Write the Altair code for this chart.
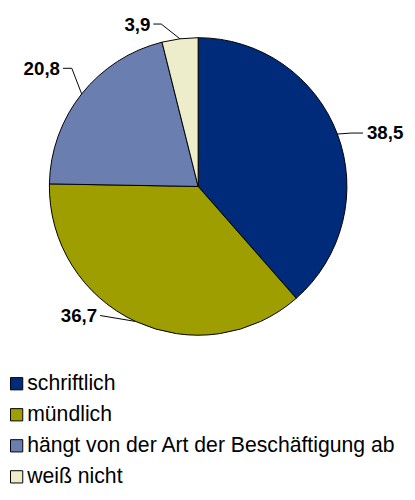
import math
import altair as alt
import pandas as pd

# ---- data ----
categories = ["schriftlich", "mündlich", "hängt von der Art der Beschäftigung ab", "weiß nicht"]
values = [38.5, 36.7, 20.8, 3.9]
value_labels = ["38,5", "36,7", "20,8", "3,9"]
colors = ["#002A7A", "#9E9E00", "#6A7EB0", "#EDEDCB"]

# ---- layout (chart pixel space) ----
W, H = 405, 484
CX, CY, R = 193, 177.5, 151
FONT = "Liberation Sans"
# leader-line offsets relative to the slice edge point: (elbow, end, label anchor, align)
leader = {
    "schriftlich": ((14, -1), (26, -1), (30, -1), "left"),
    "mündlich": ((-36, -6), (-36, -6), (-39, -5), "right"),
    "hängt von der Art der Beschäftigung ab": ((-10, -26), (-19, -26), (-22, -25), "right"),
    "weiß nicht": ((-19, -15), (-27, -15), (-30, -14), "right"),
}

total = sum(values)
pie_df = pd.DataFrame({"cat": categories, "value": values, "idx": range(len(values))})

line_rows, lab_rows = [], []
cum = 0.0
for cat, v, lab in zip(categories, values, value_labels):
    mid = (cum + v / 2) / total * 2 * math.pi
    cum += v
    ex = CX + R * math.sin(mid)
    ey = CY - R * math.cos(mid)
    (e1, e2, la, al) = leader[cat]
    pts = [(ex, ey), (ex + e1[0], ey + e1[1]), (ex + e2[0], ey + e2[1])]
    for k, (px, py) in enumerate(pts):
        line_rows.append({"cat": cat, "k": k, "px": px, "py": py})
    lab_rows.append({"cat": cat, "label": lab, "px": ex + la[0], "py": ey + la[1], "align": al})

lines_df = pd.DataFrame(line_rows)
labs_df = pd.DataFrame(lab_rows)

color_scale = alt.Scale(domain=categories, range=colors)

pie = alt.Chart(pie_df).mark_arc(
    outerRadius=R, stroke="black", strokeWidth=1
).encode(
    theta=alt.Theta("value:Q", stack=True),
    order=alt.Order("idx:Q"),
    color=alt.Color(
        "cat:N",
        scale=color_scale,
        sort=categories,
        legend=alt.Legend(
            title=None,
            orient="none",
            legendX=-2,
            legendY=367,
            symbolType="square",
            symbolSize=155,
            symbolStrokeColor="black",
            symbolStrokeWidth=1,
            symbolOpacity=1,
            labelFont=FONT,
            labelFontSize=21.5,
            labelColor="black",
            labelOffset=0,
            rowPadding=8.5,
            padding=0,
            labelLimit=400,
        ),
    ),
    x=alt.value(CX),
    y=alt.value(CY),
)

lines = alt.Chart(lines_df).mark_line(color="black", strokeWidth=1).encode(
    x=alt.X("px:Q", scale=None),
    y=alt.Y("py:Q", scale=None),
    detail="cat:N",
    order="k:Q",
)

def text_layer(al):
    return alt.Chart(labs_df[labs_df["align"] == al]).mark_text(
        font=FONT, fontSize=19, fontWeight="bold", align=al, baseline="middle", color="black"
    ).encode(
        x=alt.X("px:Q", scale=None),
        y=alt.Y("py:Q", scale=None),
        text="label:N",
    )

chart = alt.layer(pie, lines, text_layer("left"), text_layer("right")).properties(
    width=W, height=H, padding=0, autosize=alt.AutoSizeParams(type="none")
).configure_view(stroke=None)

chart.save("out.html", embed_options={"renderer": "svg", "actions": False})
